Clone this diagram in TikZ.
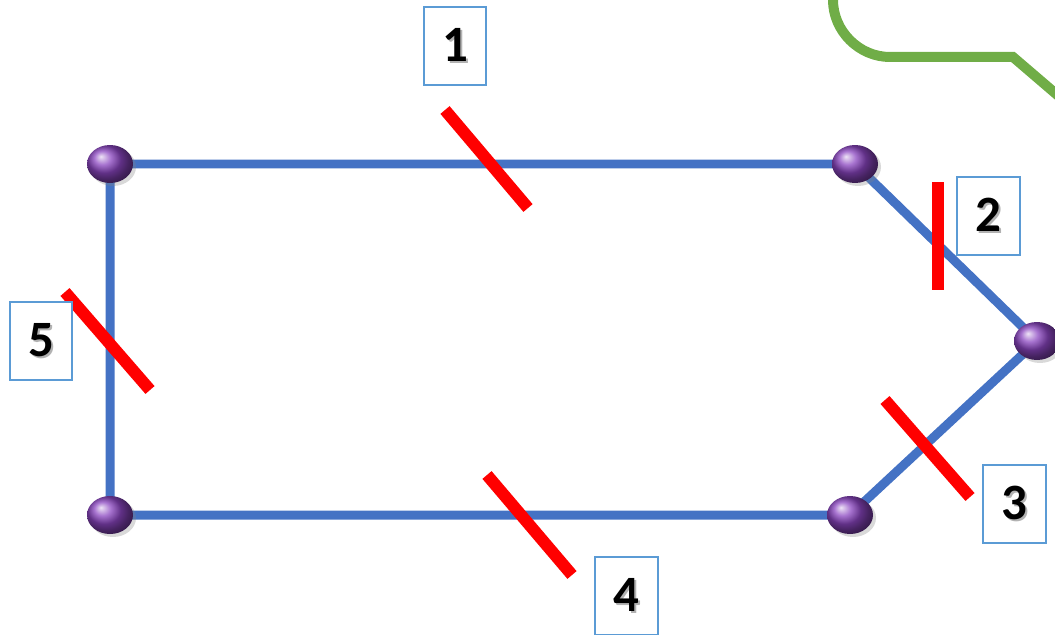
\documentclass[tikz,border=0pt]{standalone}
\usepackage{fontspec}
\setmainfont{Carlito}
\usetikzlibrary{shapes.geometric,shadows,backgrounds}

\definecolor{edgeblue}{HTML}{4472C4}
\definecolor{boxblue}{HTML}{5B9BD5}
\definecolor{cutred}{HTML}{FF0000}
\definecolor{routegreen}{HTML}{70AD47}
\definecolor{dotpurple}{HTML}{8A45C0}

% digit with a soft shadow
\newcommand{\shadednum}[1]{\makebox[0pt][l]{\hspace{1.2pt}\raisebox{-1.2pt}{\textcolor{black!30}{#1}}}#1}

\tikzset{
  vertex/.style={ellipse, inner sep=0pt, minimum width=0.92cm, minimum height=0.76cm,
    ball color=dotpurple, drop shadow={opacity=0.3, shadow xshift=0.06cm, shadow yshift=-0.06cm}},
  edge/.style={edgeblue, line width=0.18cm},
  cut/.style={cutred, line width=0.24cm},
  tag/.style={draw=boxblue, line width=0.04cm, fill=white, minimum width=1.26cm,
    minimum height=1.56cm, inner sep=0pt, font=\fontsize{29}{31}\selectfont\bfseries}
}

\begin{document}
\begin{tikzpicture}[x=0.02cm,y=-0.02cm]
  \useasboundingbox (0,0) rectangle (1055,635);

  % corners of the loop
  \node[vertex] (a) at (110,164) {};
  \node[vertex] (b) at (855,164) {};
  \node[vertex] (c) at (1037,341) {};
  \node[vertex] (d) at (850,515) {};
  \node[vertex] (e) at (110,515) {};

  \begin{scope}[on background layer]
    \draw[edge] (a.center) -- (b.center) -- (c.center) -- (d.center) -- (e.center) -- (a.center);
  \end{scope}

  % cut marks
  \draw[cut] (445,110) -- (528,208);
  \draw[cut] (938,182) -- (938,290);
  \draw[cut] (885,400) -- (970,497);
  \draw[cut] (487,475) -- (572,575);
  \draw[cut] (65,292) -- (150,390);

  % numbers
  \node[tag] (t1) at (455,46) {\shadednum{1}};
  \node[tag] (t2) at (988,216) {\shadednum{2}};
  \node[tag] (t3) at (1014,504) {\shadednum{3}};
  \node[tag] (t4) at (626,596) {\shadednum{4}};
  \node[tag] (t5) at (41,341) {\shadednum{5}};

  \draw[routegreen, line width=0.2cm] (833,-10) -- (833,0)
    .. controls (833,31) and (859,57) .. (890,57) -- (1013,57) -- (1090,123);
\end{tikzpicture}
\end{document}
